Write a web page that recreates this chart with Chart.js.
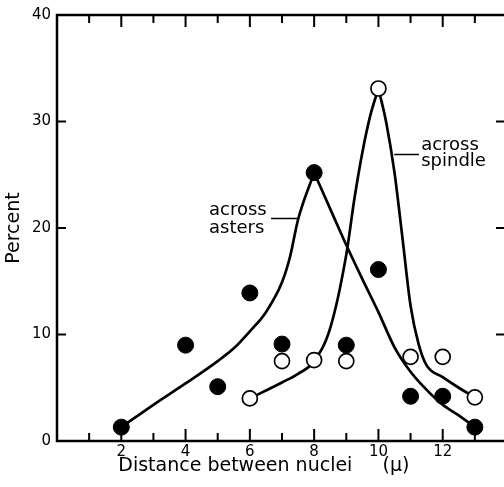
<!DOCTYPE html>
<html>
<head>
<meta charset="utf-8">
<title>Distance between nuclei</title>
<script src="https://cdn.jsdelivr.net/npm/chart.js@4.4.1/dist/chart.umd.min.js"></script>
<style>
  html, body { margin: 0; padding: 0; background: #fff; overflow: hidden; }
  #wrap { width: 512px; height: 487px; }
</style>
</head>
<body>
<div id="wrap"><canvas id="chart" width="512" height="487"></canvas></div>
<script>
// measured points (filled = across asters, open = across spindle)
var astersX = [2, 4, 5, 6, 7, 8, 9, 10, 11, 12, 13];
var astersY = [1.3, 9.0, 5.1, 13.9, 9.1, 25.2, 9.0, 16.1, 4.2, 4.2, 1.3];
var spindleX = [6, 7, 8, 9, 10, 11, 12, 13];
var spindleY = [4.0, 7.5, 7.6, 7.5, 33.1, 7.9, 7.9, 4.1];

// hand drawn curves (each has a sharp peak, so rise and fall are separate)
var astersRiseX = [2, 3, 4, 5, 5.5, 6, 6.5, 7, 7.25, 7.5, 8];
var astersRiseY = [1.3, 3.4, 5.4, 7.5, 8.7, 10.3, 12.1, 14.9, 17.3, 20.8, 25.2];
var astersFallX = [8, 8.5, 9, 9.5, 10, 10.5, 11, 11.5, 12, 12.5, 13];
var astersFallY = [25.2, 21.8, 18.4, 15.2, 12.1, 8.8, 6.5, 4.8, 3.4, 2.4, 1.3];
var spindleRiseX = [6, 7, 7.5, 8, 8.5, 9, 9.25, 9.5, 9.75, 10];
var spindleRiseY = [4.0, 5.5, 6.3, 7.5, 10.6, 17.5, 22.7, 27.1, 30.6, 33.1];
var spindleFallX = [10, 10.25, 10.5, 10.75, 11, 11.25, 11.5, 12, 12.5, 13];
var spindleFallY = [33.1, 29.8, 25.2, 19.0, 12.7, 9.1, 7.1, 6.0, 5.0, 4.1];

var xLabels = [2, 4, 6, 8, 10, 12];
var yTicks = [0, 10, 20, 30, 40];

var FONT = "'DejaVu Sans', sans-serif";

function toPoints(xs, ys) {
    return xs.map(function (x, i) { return { x: x, y: ys[i] }; });
}

function curve(label, xs, ys) {
    return {
        label: label,
        data: toPoints(xs, ys),
        borderColor: "#000",
        borderWidth: 2.7,
        pointRadius: 0,
        cubicInterpolationMode: "monotone",
        fill: false,
        order: 3
    };
}

// frame, inside tick marks and the two curve labels
var figureDecor = {
    id: "figureDecor",
    beforeDatasetsDraw: function (chart) {
        var ctx = chart.ctx;
        var a = chart.chartArea;
        var xs = chart.scales.x;
        var ys = chart.scales.y;

        ctx.save();
        ctx.strokeStyle = "#000";
        ctx.lineWidth = 2.5;
        ctx.strokeRect(a.left, a.top, a.right - a.left, a.bottom - a.top);

        ctx.lineWidth = 2;
        ctx.beginPath();
        for (var v = 1; v < 14; v++) {
            var px = xs.getPixelForValue(v);
            var len = v % 2 === 0 ? 12 : 8;
            ctx.moveTo(px, a.bottom);
            ctx.lineTo(px, a.bottom - len);
            ctx.moveTo(px, a.top);
            ctx.lineTo(px, a.top + len);
        }
        yTicks.slice(1, -1).forEach(function (t) {
            var py = ys.getPixelForValue(t);
            ctx.moveTo(a.left, py);
            ctx.lineTo(a.left + 9, py);
            ctx.moveTo(a.right, py);
            ctx.lineTo(a.right - 11, py);
        });
        ctx.stroke();

        // curve labels with their leader lines
        ctx.lineWidth = 1.5;
        ctx.beginPath();
        ctx.moveTo(xs.getPixelForValue(6.66), ys.getPixelForValue(20.9));
        ctx.lineTo(xs.getPixelForValue(7.47), ys.getPixelForValue(20.9));
        ctx.moveTo(xs.getPixelForValue(10.49), ys.getPixelForValue(26.9));
        ctx.lineTo(xs.getPixelForValue(11.26), ys.getPixelForValue(26.9));
        ctx.stroke();

        ctx.fillStyle = "#000";
        ctx.font = "18px " + FONT;
        ctx.textAlign = "left";
        ctx.textBaseline = "alphabetic";
        ctx.fillText("across", xs.getPixelForValue(4.73), ys.getPixelForValue(21.2));
        ctx.fillText("asters", xs.getPixelForValue(4.73), ys.getPixelForValue(19.5));
        ctx.fillText("across", xs.getPixelForValue(11.33), ys.getPixelForValue(27.3));
        ctx.fillText("spindle", xs.getPixelForValue(11.33), ys.getPixelForValue(25.8));
        ctx.restore();
    }
};

var ctx = document.getElementById("chart").getContext("2d");

new Chart(ctx, {
    type: "line",
    data: {
        datasets: [
            curve("across asters (rise)", astersRiseX, astersRiseY),
            curve("across asters (fall)", astersFallX, astersFallY),
            curve("across spindle (rise)", spindleRiseX, spindleRiseY),
            curve("across spindle (fall)", spindleFallX, spindleFallY),
            {
                label: "across asters",
                data: toPoints(astersX, astersY),
                showLine: false,
                pointRadius: 8,
                pointBackgroundColor: "#000",
                pointBorderColor: "#000",
                pointBorderWidth: 1,
                order: 2
            },
            {
                label: "across spindle",
                data: toPoints(spindleX, spindleY),
                showLine: false,
                pointRadius: 7.5,
                pointBackgroundColor: "#fff",
                pointBorderColor: "#000",
                pointBorderWidth: 1.7,
                order: 1
            }
        ]
    },
    options: {
        responsive: false,
        animation: false,
        events: [],
        layout: {
            autoPadding: false,
            padding: { top: 15, right: 5, left: 0, bottom: 0 }
        },
        plugins: {
            legend: { display: false },
            tooltip: { enabled: false }
        },
        scales: {
            x: {
                type: "linear",
                min: 0,
                max: 14,
                afterFit: function (s) { s.height = 46; },
                grid: { display: false, drawTicks: false },
                border: { display: false },
                ticks: {
                    stepSize: 1,
                    autoSkip: false,
                    maxRotation: 0,
                    padding: 2,
                    color: "#000",
                    font: { family: FONT, size: 15 },
                    callback: function (v) { return xLabels.indexOf(v) >= 0 ? String(v) : ""; }
                },
                title: {
                    display: true,
                    text: "Distance between nuclei     (μ)      ",
                    color: "#000",
                    font: { family: FONT, size: 19 },
                    padding: { top: 0, bottom: 10 }
                }
            },
            y: {
                min: 0,
                max: 40,
                afterFit: function (s) { s.width = 57; },
                grid: { display: false, drawTicks: false },
                border: { display: false },
                ticks: {
                    stepSize: 10,
                    padding: 6,
                    color: "#000",
                    font: { family: FONT, size: 15 }
                },
                title: {
                    display: true,
                    text: "Percent",
                    color: "#000",
                    font: { family: FONT, size: 19 },
                    padding: { top: 3, bottom: 0 }
                }
            }
        }
    },
    plugins: [figureDecor]
});
</script>
</body>
</html>
